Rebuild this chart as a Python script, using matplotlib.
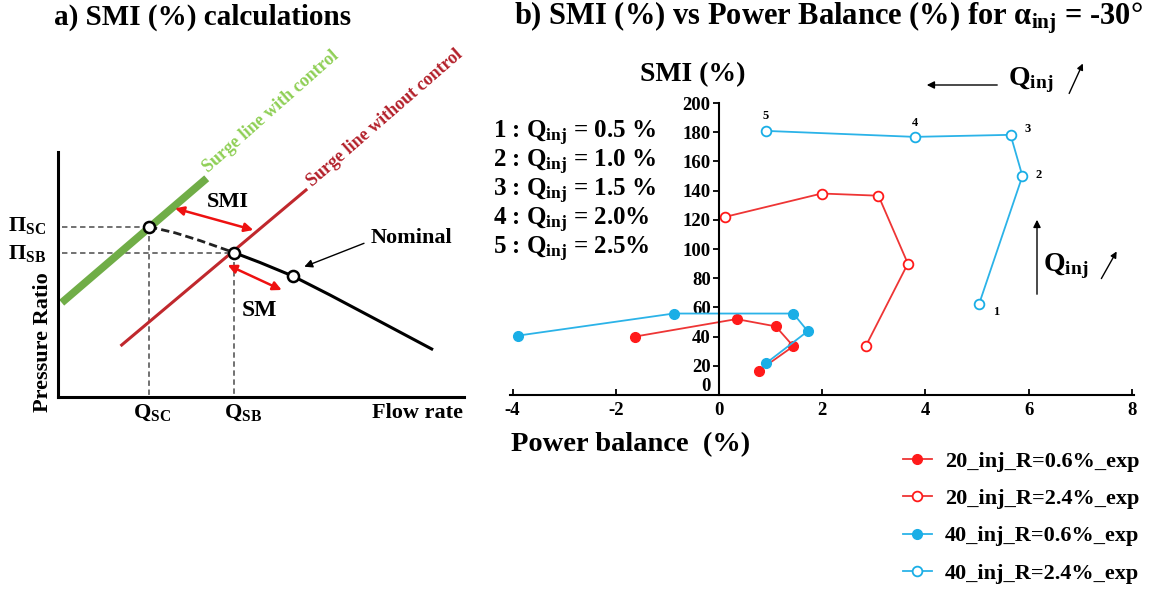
import numpy as np
import matplotlib
matplotlib.use('Agg')
import matplotlib.pyplot as plt
import matplotlib.patches as mpatches

plt.rcParams['font.family'] = ['Liberation Serif', 'DejaVu Serif']
plt.rcParams['font.weight'] = 'bold'
plt.rcParams['axes.unicode_minus'] = False
plt.rcParams['mathtext.fontset'] = 'custom'
plt.rcParams['mathtext.rm'] = 'Liberation Serif:bold'
plt.rcParams['mathtext.it'] = 'Liberation Serif:bold'
plt.rcParams['mathtext.bf'] = 'Liberation Serif:bold'
plt.rcParams['mathtext.default'] = 'rm'

# ---------------- Panel b data ----------------
pb_20_06 = [0.77, 1.44, 1.10, 0.34, -1.63]
smi_20_06 = [16.6, 33.4, 47.0, 52.0, 40.0]
pb_20_24 = [2.85, 3.66, 3.09, 1.99, 0.12]
smi_20_24 = [33.9, 90.0, 136.5, 138.0, 122.0]
pb_40_06 = [0.92, 1.72, 1.44, -0.88, -3.89]
smi_40_06 = [22.0, 43.7, 55.8, 55.8, 40.7]
pb_40_24 = [5.04, 5.88, 5.65, 3.79, 0.91]
smi_40_24 = [62.3, 150.0, 178.2, 176.8, 180.9]
series_names = ['20_inj_R=0.6%_exp', '20_inj_R=2.4%_exp',
                '40_inj_R=0.6%_exp', '40_inj_R=2.4%_exp']
point_labels = ['1', '2', '3', '4', '5']
qinj_values = ['0.5 %', '1.0 %', '1.5 %', '2.0%', '2.5%']
x_ticks = [-4, -2, 0, 2, 4, 6, 8]
y_ticks = [0, 20, 40, 60, 80, 100, 120, 140, 160, 180, 200]

# ---------------- Panel a schematic (diagram units) ----------------
surge_ctrl_q = [61.7, 206.7]
surge_ctrl_pr = [302.7, 178.3]
surge_noctrl_q = [121.7, 306.0]
surge_noctrl_pr = [345.0, 190.0]
nominal_dash_q = [149.0, 175.0, 200.0, 234.3]
nominal_dash_pr = [226.7, 232.8, 240.6, 252.7]
nominal_solid_q = [234.3, 260.0, 292.7, 330.0, 380.0, 431.7]
nominal_solid_pr = [252.7, 262.5, 276.0, 295.0, 321.5, 349.0]
op_q = [149.0, 234.3, 292.7]
op_pr = [226.7, 252.7, 276.0]

W, H = 1152, 590
fig = plt.figure(figsize=(W / 100, H / 100), dpi=100)


def fp(x, y):
    return (x / W, 1 - y / H)


RED_M = '#ff1a1a'
RED_L = '#ee3535'
BLUE_M = '#1aaee6'
BLUE_L = '#2bb3e8'

# ---------------- Panel a ----------------
axa = fig.add_axes([58.3 / W, 1 - 396.7 / H, (464 - 58.3) / W, (396.7 - 151.7) / H])
axa.set_xlim(58.3, 464)
axa.set_ylim(396.7, 151.7)
for s in ['top', 'right']:
    axa.spines[s].set_visible(False)
for s in ['left', 'bottom']:
    axa.spines[s].set_linewidth(2.2)
axa.set_xticks([])
axa.set_yticks([])

dash_kw = dict(color='#666666', lw=1.3, ls=(0, (3, 2)), zorder=1)
axa.plot([62, op_q[0]], [op_pr[0], op_pr[0]], **dash_kw)
axa.plot([62, op_q[1]], [op_pr[1], op_pr[1]], **dash_kw)
axa.plot([op_q[0], op_q[0]], [op_pr[0], 396.7], **dash_kw)
axa.plot([op_q[1], op_q[1]], [op_pr[1], 396.7], **dash_kw)

axa.plot(surge_ctrl_q, surge_ctrl_pr, color='#70ad47', lw=5.5,
         solid_capstyle='butt', zorder=2, clip_on=False)
axa.plot(surge_noctrl_q, surge_noctrl_pr, color='#c0282d', lw=2.2, zorder=2,
         clip_on=False)
axa.plot(nominal_dash_q, nominal_dash_pr, color='#222222', lw=2.0,
         ls=(0, (3, 1.5)), zorder=3)
axa.plot(nominal_solid_q, nominal_solid_pr, color='black', lw=2.2, zorder=3,
         solid_joinstyle='round')
axa.plot(op_q, op_pr, ls='none', marker='o', ms=8, mfc='white', mec='black',
         mew=1.8, zorder=4)

axa.text(208, 173, 'Surge line with control', color='#8fcf55', fontsize=13,
         rotation=41.5, rotation_mode='anchor', ha='left', va='baseline',
         clip_on=False)
axa.text(312, 187, 'Surge line without control', color='#b3202a',
         fontsize=13, rotation=41, rotation_mode='anchor', ha='left',
         va='baseline', clip_on=False)

axa.annotate('', xy=(175, 208.3), xytext=(253.3, 230),
             arrowprops=dict(arrowstyle='<|-|>', color='#ee1111', lw=1.8,
                             mutation_scale=13, shrinkA=0, shrinkB=0))
axa.annotate('', xy=(227.7, 265), xytext=(281.7, 290),
             arrowprops=dict(arrowstyle='<|-|>', color='#ee1111', lw=1.8,
                             mutation_scale=13, shrinkA=0, shrinkB=0))
axa.annotate('', xy=(304.3, 266.7), xytext=(364, 243.3),
             arrowprops=dict(arrowstyle='-|>', color='black', lw=1.0,
                             mutation_scale=12, shrinkA=0, shrinkB=0))
axa.text(227.7, 201.7, 'SMI', fontsize=16, ha='center', va='center')
axa.text(259.3, 310, 'SM', fontsize=17, ha='center', va='center')
axa.text(411, 237.7, 'Nominal', fontsize=16, ha='center', va='center')

fig.text(*fp(27, 225), r'$\Pi_{SC}$', fontsize=16, ha='center', va='center')
fig.text(*fp(27, 253), r'$\Pi_{SB}$', fontsize=16, ha='center', va='center')
fig.text(*fp(152.3, 413), r'$Q_{SC}$', fontsize=16, ha='center', va='center')
fig.text(*fp(243.3, 413), r'$Q_{SB}$', fontsize=16, ha='center', va='center')
fig.text(*fp(463, 413), 'Flow rate', fontsize=16, ha='right', va='center')
fig.text(*fp(43, 342), 'Pressure Ratio', fontsize=16, rotation=90,
         ha='center', va='center')
fig.text(*fp(203, 17), 'a) SMI (%) calculations', fontsize=21,
         ha='center', va='center')

# ---------------- Panel b ----------------
axb = fig.add_axes([510 / W, 1 - 395 / H, 624.4 / W, 292 / H])
axb.set_xlim(-4.05, 8.05)
axb.set_ylim(0, 200)
axb.spines['left'].set_position(('data', 0))
axb.spines['bottom'].set_position(('data', 0))
axb.spines['top'].set_visible(False)
axb.spines['right'].set_visible(False)
axb.spines['left'].set_linewidth(1.5)
axb.spines['bottom'].set_linewidth(1.5)
axb.set_xticks(x_ticks)
axb.set_yticks(y_ticks)
axb.tick_params(axis='x', direction='in', length=4, width=1.3, pad=5,
                labelsize=13.5)
axb.tick_params(axis='y', direction='out', length=4, width=1.3, pad=2,
                labelsize=13.5)
for lab in axb.get_xticklabels() + axb.get_yticklabels():
    lab.set_fontweight('bold')
axb.yaxis.get_major_ticks()[0].label1.set_verticalalignment('bottom')

mk = dict(ms=7, lw=1.3, marker='o', clip_on=False)
axb.plot(pb_20_06, smi_20_06, color=RED_L, mfc=RED_M, mec=RED_M,
         label=series_names[0], **mk)
axb.plot(pb_20_24, smi_20_24, color=RED_L, mfc='white', mec=RED_M, mew=1.3,
         label=series_names[1], **mk)
axb.plot(pb_40_06, smi_40_06, color=BLUE_L, mfc=BLUE_M, mec=BLUE_M,
         label=series_names[2], **mk)
axb.plot(pb_40_24, smi_40_24, color=BLUE_L, mfc='white', mec=BLUE_M, mew=1.3,
         label=series_names[3], **mk)

offsets = [(12, -6), (12, 1), (12, 4), (0, 10), (0, 11)]
for lbl, xv, yv, off in zip(point_labels, pb_40_24, smi_40_24, offsets):
    axb.annotate(lbl, (xv, yv), xytext=off, textcoords='offset points',
                 fontsize=9, ha='center', va='center', fontweight='bold')

leg = axb.legend(loc='upper left', bbox_to_anchor=fp(903, 451),
                 bbox_transform=fig.transFigure, frameon=False, fontsize=16,
                 handlelength=1.3, handletextpad=0.6, labelspacing=0.76,
                 borderpad=0, borderaxespad=0)

for i, q in enumerate(qinj_values):
    fig.text(*fp(493, 133 + 29 * i), f'{i + 1} : $Q_{{inj}}$ = {q}',
             fontsize=18, ha='left', va='center')

fig.text(*fp(693, 75), 'SMI (%)', fontsize=20, ha='center', va='center')
fig.text(*fp(631, 445), 'Power balance  (%)', fontsize=20.5, ha='center',
         va='center')
fig.text(*fp(828, 18), r'b) SMI (%) vs Power Balance (%) for $\alpha_{inj}$ = -30°',
         fontsize=22, ha='center', va='center')

# direction arrows
fig.add_artist(mpatches.FancyArrowPatch(
    fp(1000, 85), fp(924, 85), transform=fig.transFigure,
    arrowstyle='-|>', mutation_scale=11, color='black', lw=1.0))
fig.text(*fp(1031, 80), r'$Q_{inj}$', fontsize=20, ha='center', va='center')
fig.add_artist(mpatches.FancyArrowPatch(
    fp(1068, 96), fp(1084, 61), transform=fig.transFigure,
    arrowstyle='-|>', mutation_scale=9, color='black', lw=1.0))
fig.add_artist(mpatches.FancyArrowPatch(
    fp(1037, 297), fp(1037, 217), transform=fig.transFigure,
    arrowstyle='-|>', mutation_scale=11, color='black', lw=1.0))
fig.text(*fp(1066, 266), r'$Q_{inj}$', fontsize=20, ha='center', va='center')
fig.add_artist(mpatches.FancyArrowPatch(
    fp(1100, 281), fp(1118, 249), transform=fig.transFigure,
    arrowstyle='-|>', mutation_scale=9, color='black', lw=1.0))

fig.savefig('out.png', dpi=100)
